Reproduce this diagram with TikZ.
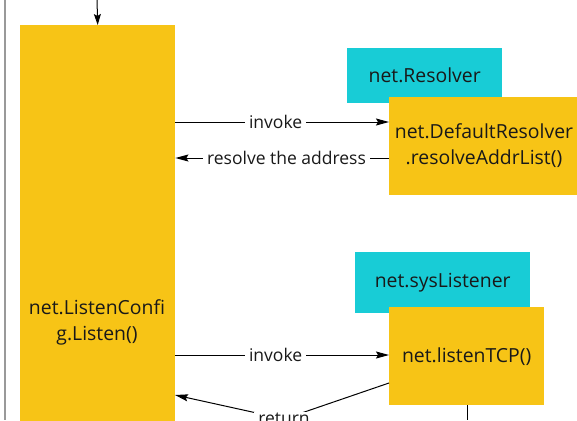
\documentclass[tikz,border=0pt]{standalone}
\usepackage{fontspec}
\setmainfont{Open Sans}
\usetikzlibrary{arrows.meta}
\definecolor{callyellow}{RGB}{247,196,22}
\definecolor{typecyan}{RGB}{24,204,214}
\definecolor{inktext}{RGB}{25,25,25}
\tikzset{
  callbox/.style={fill=callyellow, draw=none, anchor=north west, inner sep=0pt},
  typebox/.style={fill=typecyan, draw=none, anchor=north west, inner sep=0pt},
  boxtext/.style={text=inktext, font=\fontsize{19.4}{26}\selectfont, align=center, inner sep=0pt},
  lbl/.style={text=inktext, font=\fontsize{17.5}{20}\selectfont, fill=white, inner xsep=4pt, inner ysep=1pt},
  conn/.style={draw=black, line width=1pt},
  tip/.style={-{Stealth[length=13pt,width=7pt,inset=2pt]}}
}
\begin{document}
\begin{tikzpicture}[x=1pt,y=-1pt]
\useasboundingbox (0,0) rectangle (577,420);
\clip (0,0) rectangle (577,420);

% lifeline on the far left
\draw[draw=gray!80, line width=1.4pt] (5,0) -- (5,420);

% caller box
\node[callbox, minimum width=155pt, minimum height=420pt] (cfg) at (20,25) {};
\node[boxtext] (cfgtxt) at (97,322) {net.ListenConfi\\g.Listen()};
\coordinate (entry) at (97,0);
\draw[conn, -{Stealth[length=11pt,width=7pt,inset=2pt]}] (entry) -- (cfg.north);

% resolver group
\node[typebox, minimum width=155pt, minimum height=55pt] (resolver) at (347,48) {};
\node[boxtext] (resolvertxt) at (resolver.center) {net.Resolver};
\node[callbox, minimum width=200pt, minimum height=98pt] (dres) at (389,97) {};
\node[boxtext] (drestxt) at (484,146) {net.DefaultResolver\\.resolveAddrList()};

% listener group
\node[typebox, minimum width=175pt, minimum height=61pt] (syslst) at (355,252) {};
\node[boxtext] (syslsttxt) at (syslst.center) {net.sysListener};
\node[callbox, minimum width=155pt, minimum height=98pt] (tcp) at (389,307) {};
\node[boxtext] (tcptxt) at (tcp.center) {net.listenTCP()};
\coordinate (tcpdown) at (467,420);
\draw[conn] (tcp.south -| tcpdown) -- (tcpdown);

% invoke / resolve messages
\coordinate (inv1) at (175,122);
\draw[conn, tip] (inv1) -- (inv1 -| dres.west) node[lbl, pos=0.47] {invoke};
\coordinate (res1) at (389,158);
\draw[conn, tip] (res1) -- (res1 -| cfg.east) node[lbl, pos=0.48] {resolve the address};

\coordinate (inv2) at (175,355);
\draw[conn, tip] (inv2) -- (inv2 -| tcp.west) node[lbl, pos=0.47] {invoke};

% return message
\coordinate (ret1) at (389,383);
\coordinate (retmid) at (284,419);
\coordinate (ret2) at (175,395);
\draw[conn, tip] (ret1) -- (retmid) -- (ret2);
\node[lbl] (rettxt) at (retmid) {return};
\end{tikzpicture}
\end{document}
